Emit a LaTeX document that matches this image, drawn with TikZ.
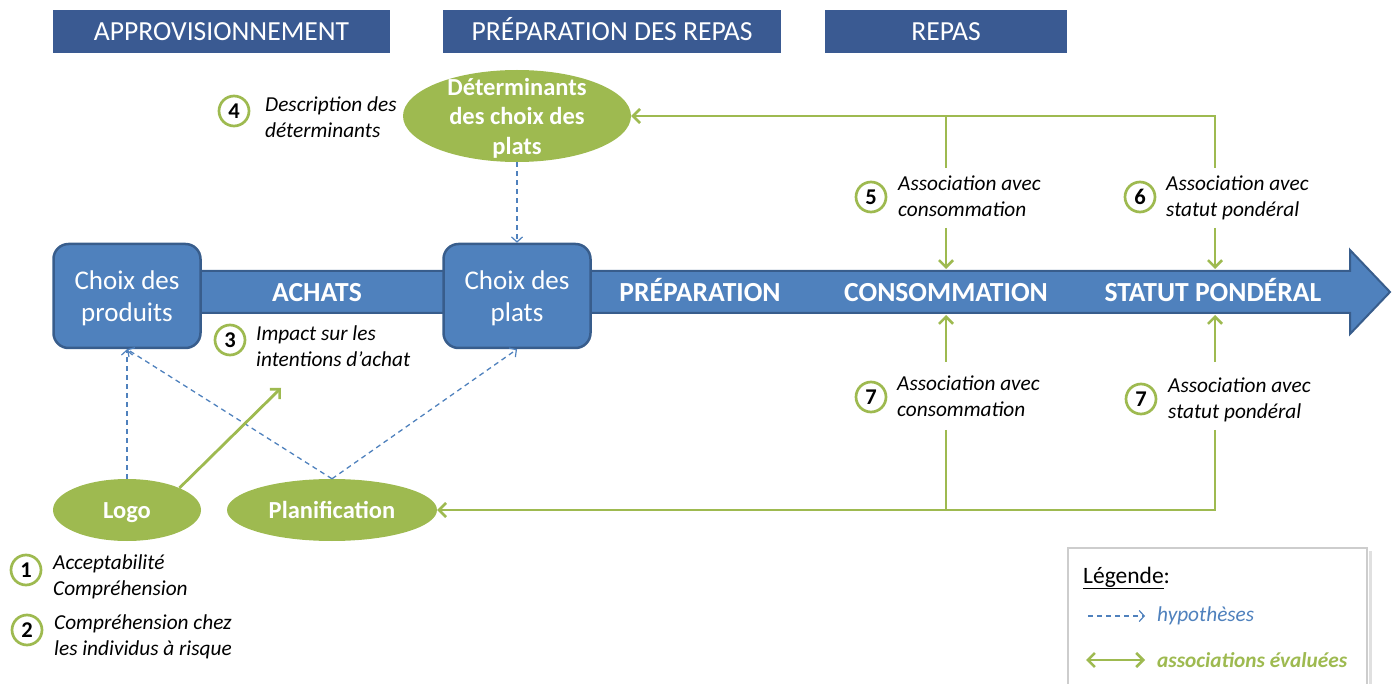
\documentclass[tikz,border=0pt]{standalone}
\usepackage{fontspec}
\setmainfont{Carlito}
\usetikzlibrary{arrows.meta,shapes.geometric,calc}

\definecolor{hdrblue}{RGB}{58,90,146}
\definecolor{flowblue}{RGB}{79,129,189}
\definecolor{flowedge}{RGB}{56,93,140}
\definecolor{olive}{RGB}{158,186,80}
\definecolor{legendgray}{RGB}{205,205,205}

\tikzset{
  hdr/.style={fill=hdrblue, text=white, minimum height=43pt, inner sep=0pt,
    text height=18pt, text depth=0pt, font=\fontsize{27.6}{30}\selectfont},
  stepbox/.style={fill=flowblue, draw=flowedge, line width=2.5pt, rounded corners=15pt,
    minimum width=147pt, minimum height=104pt},
  steptxt/.style={text=white, align=center, inner sep=0pt, font=\fontsize{27}{32}\selectfont},
  flowlbl/.style={text=white, inner sep=0pt, text height=18pt, text depth=0pt,
    font=\bfseries\fontsize{27.6}{32}\selectfont},
  oval/.style={ellipse, fill=olive, inner sep=0pt},
  ovaltxt/.style={text=white, align=center, inner sep=0pt, font=\bfseries\fontsize{24.5}{29.5}\selectfont},
  ovalone/.style={ovaltxt, text height=17pt, text depth=1pt},
  num/.style={circle, draw=olive, fill=white, line width=2.7pt, minimum size=30pt, inner sep=0pt,
    font=\bfseries\fontsize{22.5}{24}\selectfont},
  note/.style={anchor=west, align=left, inner sep=0pt, font=\itshape\fontsize{21.3}{26}\selectfont},
  hyp/.style={draw=flowblue, line width=1.3pt, dash pattern=on 5pt off 4pt,
    -{Straight Barb[length=5pt,width=11pt,line width=1.2pt]}},
  assoc/.style={draw=olive, line width=2.8pt, -{Straight Barb[length=7pt,width=14pt,line width=2.6pt]}},
  assocline/.style={draw=olive, line width=2.8pt},
}

\begin{document}
\begin{tikzpicture}[x=1pt, y=-1pt]
\useasboundingbox (0,0) rectangle (1395,684);

% phase headers
\node[hdr, minimum width=337pt] (hA) at (221.5,31.5) {APPROVISIONNEMENT};
\node[hdr, minimum width=338pt] (hP) at (612,31.5) {PRÉPARATION DES REPAS};
\node[hdr, minimum width=242pt] (hR) at (946,31.5) {REPAS};

% main process arrow
\path[fill=flowblue, draw=flowedge, line width=2pt]
  (150,271) -- (1350,271) -- (1350,250) -- (1390,292) -- (1350,334) -- (1350,313) -- (150,313) -- cycle;

% decision boxes
\node[stepbox] (prod) at (127,296) {};
\node[steptxt] (prodt) at (127,298) {Choix des\\produits};
\node[stepbox] (plats) at (517,296) {};
\node[steptxt] (platst) at (517,298) {Choix des\\plats};

% stage labels on the arrow
\node[flowlbl] (achats) at (317,293) {ACHATS};
\node[flowlbl] (prep) at (700,293) {PRÉPARATION};
\node[flowlbl] (conso) at (946,293) {CONSOMMATION};
\node[flowlbl] (statut) at (1213,293) {STATUT PONDÉRAL};

% green ovals
\node[oval, minimum width=228pt, minimum height=92pt] (det) at (517,116) {};
\node[ovaltxt] (dett) at (517,118) {Déterminants\\des choix des\\plats};
\node[oval, minimum width=148pt, minimum height=62pt] (logo) at (127,510) {};
\node[ovalone] (logot) at (127,510) {Logo};
\node[oval, minimum width=210pt, minimum height=62pt] (plan) at (332,510) {};
\node[ovalone] (plant) at (332,510) {Planification};

% hypotheses (dashed)
\draw[hyp] (det.south) -- (plats.north);
\draw[hyp] (logo.north) -- (prod.south);
\draw[hyp] (plan.north) -- (prod.south);
\draw[hyp] (plan.north) -- (plats.south);

% evaluated associations
\coordinate (tip3) at (281,388);
\draw[assoc] (logo.north east) -- (tip3);

\coordinate (u5) at (946,168);
\coordinate (u6) at (1215,168);
\draw[assoc] (u6) |- (det.east);
\draw[assocline] (u5) -- (u5 |- det.east);

\coordinate (d5s) at (946,228);
\coordinate (d5e) at (946,269);
\coordinate (d6s) at (1215,228);
\coordinate (d6e) at (1215,269);
\draw[assoc] (d5s) -- (d5e);
\draw[assoc] (d6s) -- (d6e);

\coordinate (e5s) at (946,362);
\coordinate (e5e) at (946,315);
\coordinate (e6s) at (1215,362);
\coordinate (e6e) at (1215,315);
\draw[assoc] (e5s) -- (e5e);
\draw[assoc] (e6s) -- (e6e);

\coordinate (l5) at (946,430);
\coordinate (l6) at (1215,430);
\draw[assoc] (l5) |- (plan.east);
\draw[assocline] (l6) |- (l5 |- plan.east);

% numbered annotations
\node[num] (n4) at (234,111) {4};
\node[note] (t4) at (265,117) {Description des\\déterminants};
\node[num] (n3) at (230,340) {3};
\node[note] (t3) at (256,346) {Impact sur les\\intentions d’achat};
\node[num] (n5) at (871,197) {5};
\node[note] (t5) at (898,196) {Association avec\\consommation};
\node[num] (n6) at (1140,197) {6};
\node[note] (t6) at (1166,198) {Association avec\\statut pondéral};
\node[num] (n7a) at (871,397) {7};
\node[note] (t7a) at (897,396) {Association avec\\consommation};
\node[num] (n7b) at (1141,399) {7};
\node[note] (t7b) at (1168,400) {Association avec\\statut pondéral};
\node[num] (n1) at (26,570) {1};
\node[note] (t1) at (53,577) {Acceptabilité\\Compréhension};
\node[num] (n2) at (27,630) {2};
\node[note] (t2) at (54,637) {Compréhension chez\\les individus à risque};

% legend panel with a soft shadow on its right edge
\fill[black!12] (1369,551) rectangle (1372,700);
\draw[draw=legendgray, line width=1.5pt, fill=white] (1068,548) rectangle (1367,700);
\node[anchor=west, inner sep=0pt, font=\fontsize{23.5}{26}\selectfont] (lgt) at (1083,578) {\underline{Légende}:};
\coordinate (lh1) at (1088,616);
\coordinate (lh2) at (1145,616);
\draw[hyp] (lh1) -- (lh2);
\node[anchor=west, inner sep=0pt, text=flowblue, font=\itshape\fontsize{21.3}{24}\selectfont] (lgh) at (1157,616) {hypothèses};
\coordinate (la1) at (1086,660);
\coordinate (la2) at (1145,660);
\draw[assoc, {Straight Barb[length=7pt,width=14pt,line width=2.6pt]}-{Straight Barb[length=7pt,width=14pt,line width=2.6pt]}] (la1) -- (la2);
\node[anchor=west, inner sep=0pt, text=olive, font=\bfseries\itshape\fontsize{21.3}{24}\selectfont] (lga) at (1157,660) {associations évaluées};
\end{tikzpicture}
\end{document}
